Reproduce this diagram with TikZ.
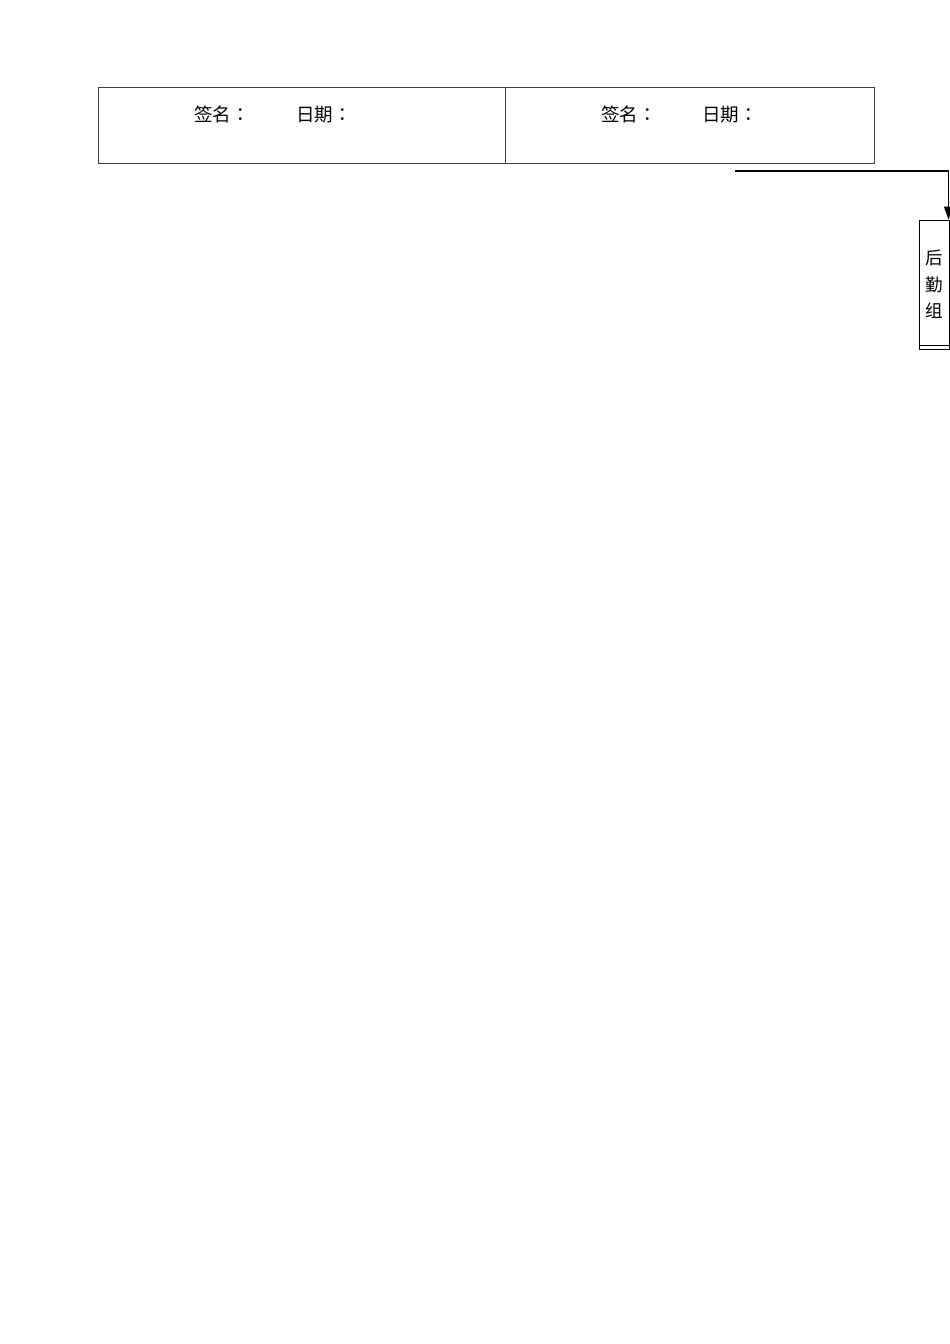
\documentclass[tikz,border=0pt]{standalone}
\usepackage{fontspec}
\setmainfont{Noto Sans CJK SC}
\newfontfamily\tcfont{Noto Sans CJK TC}
\usetikzlibrary{positioning}
\usetikzlibrary{arrows.meta}
\tikzset{
    cell/.style = {rectangle, draw=black!75, line width=0.9pt, anchor=north west, inner sep=0pt, minimum height=76pt},
    mytext/.style = {draw=none, inner sep=0pt, anchor=west, font=\fontsize{18.5}{22}\selectfont},
    mybox/.style = {rectangle, draw=black, line width=1pt, align=center, inner sep=0pt, minimum width=30pt, minimum height=129pt, font=\fontsize{17.5}{26.5}\selectfont},
    edgen/.style = {-{Triangle[width=9pt,length=13pt]}, line width=1.2pt},
}
\begin{document}
\begin{tikzpicture}[x=1pt,y=-1pt]
\useasboundingbox (0,0) rectangle (950,1344);
%
\node[cell, minimum width=407pt] at (98,87) (a) {};
\node[cell, minimum width=369pt] at (505,87) (b) {};
\node[mytext] at (194,114.5) (sa) {签名{\tcfont ：}};
\node[mytext] at (296,114.5) (da) {日期{\tcfont ：}};
\node[mytext] at (601,114.5) (sb) {签名{\tcfont ：}};
\node[mytext] at (702,114.5) (db) {日期{\tcfont ：}};
%
\node[mybox] at (934,284.5) (g) {后\\勤\\组};
\draw[line width=1pt] ([yshift=4]g.south west) -- ([yshift=4]g.south east);
\coordinate (p) at (735,171);
\draw[edgen] (p) -| ([xshift=-1]g.north east);
\end{tikzpicture}
\end{document}
